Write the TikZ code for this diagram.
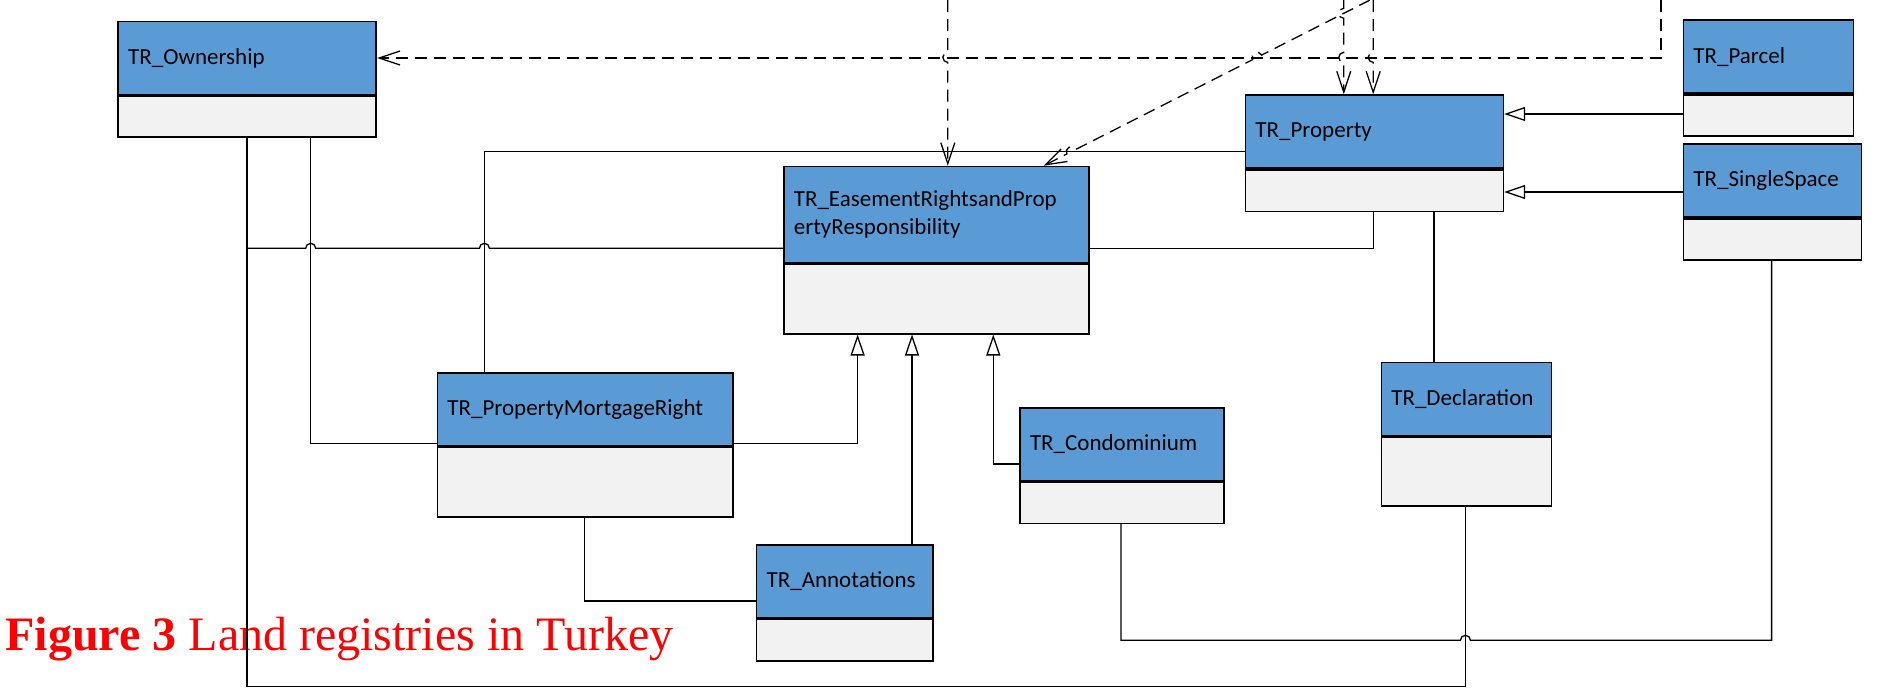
\documentclass[tikz,border=0pt]{standalone}
\usepackage{fontspec}
\setmainfont{Liberation Serif}
\newfontfamily\boxfont{Carlito}
\usetikzlibrary{arrows.meta,positioning}
\definecolor{umlblue}{HTML}{5B9BD5}
\definecolor{umlgray}{HTML}{F2F2F2}

\begin{document}
\begin{tikzpicture}[x=1pt, y=-1pt,
  cls/.style={draw, line width=1.6pt, fill=umlblue, anchor=north west, text width=#1pt, align=left,
    inner xsep=10pt, inner ysep=0pt, minimum height=73pt, font=\boxfont\fontsize{23}{28}\selectfont},
  body/.style={draw, line width=1.6pt, fill=umlgray, minimum width=#1pt, minimum height=41pt, inner sep=0pt},
  assoc/.style={line width=1.3pt},
  gen/.style={line width=1.3pt, -{Triangle[open, length=21pt, width=14pt]}},
  dep/.style={line width=1.3pt, dash pattern=on 12pt off 7pt, -{Straight Barb[length=21pt, width=14pt]}}]
  \useasboundingbox (0,0) rectangle (1879,688);

  \node[anchor=base west, inner sep=0pt, text=red, font=\fontsize{48}{48}\selectfont] (cap) at (5.4,650) {\textbf{Figure 3} Land registries in Turkey};

  \node[cls=238] (own) at (117.4,20.7) {TR\_Ownership};
  \node[body=258, below=0pt of own] (own-b) {};
  \node[cls=285.4, minimum height=96pt] (ease) at (783,165.7) {TR\_EasementRightsandProp\\ertyResponsibility};
  \node[body=305.4, minimum height=69.6pt, below=0pt of ease] (ease-b) {};
  \node[cls=238] (prop) at (1244.6,94.3) {TR\_Property};
  \node[body=258, minimum height=41.7pt, below=0pt of prop] (prop-b) {};
  \node[cls=150] (parc) at (1682.6,19.3) {TR\_Parcel};
  \node[body=170, below=0pt of parc] (parc-b) {};
  \node[cls=158] (sngl) at (1682.6,143.3) {TR\_SingleSpace};
  \node[body=178, minimum height=41.3pt, below=0pt of sngl] (sngl-b) {};
  \node[cls=275.5] (pmr) at (436.6,372) {TR\_PropertyMortgageRight};
  \node[body=295.5, minimum height=69.3pt, below=0pt of pmr] (pmr-b) {};
  \node[cls=156.3] (anno) at (755.8,544) {TR\_Annotations};
  \node[body=176.3, minimum height=41.6pt, below=0pt of anno] (anno-b) {};
  \node[cls=184] (cond) at (1019.2,407) {TR\_Condominium};
  \node[body=204, below=0pt of cond] (cond-b) {};
  \node[cls=150] (decl) at (1380.5,361.7) {TR\_Declaration};
  \node[body=170, minimum height=69pt, below=0pt of decl] (decl-b) {};

  \coordinate (t1) at (1661,0);
  \coordinate (t2) at (947.8,0);
  \coordinate (t3) at (1370,0);
  \coordinate (t4) at (1343.75,0);
  \coordinate (t5) at (1373.2,0);

  \draw[assoc] (246.9,0 |- own-b.south) -- (246.9,686.7) -| (1465.4,0 |- decl-b.south);
  \draw[assoc] (246.9,0 |- own-b.south) -- (246.9,248.3) -- (305.7,248.3) arc[start angle=180, end angle=0, radius=5pt]
    -- (479.4,248.3) arc[start angle=180, end angle=0, radius=5pt] -- (ease.west |- 0,248.3);
  \draw[assoc] (310.7,0 |- own-b.south) |- (pmr.west |- 0,443.3);
  \draw[assoc] (484.4,0 |- pmr.north) |- (prop.west |- 0,151.7);
  \draw[assoc] (1373.2,0 |- prop-b.south) |- (ease.east |- 0,248.3);
  \draw[assoc] (1434,0 |- prop-b.south) -- (1434,0 |- decl.north);
  \draw[assoc] (1771.6,0 |- sngl-b.south) -- (1771.6,640.3) -- (1470.4,640.3) arc[start angle=0, end angle=180, radius=5pt]
    -| (1121,0 |- cond-b.south);
  \draw[assoc] (584.4,0 |- pmr-b.south) |- (anno.west |- 0,601);

  \draw[gen] (parc-b.west |- 0,114) -- (prop.east |- 0,114);
  \draw[gen] (sngl.west |- 0,192) -- (prop.east |- 0,192);
  \draw[gen] (pmr.east |- 0,443.3) -| (857.6,0 |- ease-b.south);
  \draw[gen] (912,0 |- anno.north) -- (912,0 |- ease-b.south);
  \draw[gen] (cond.west |- 0,464) -| (993.3,0 |- ease-b.south);

  \draw[dep] (t1) |- (own.east);
  \draw[dep] (t2) -- (947.8,52.4) arc[start angle=90, end angle=270, radius=5pt] -- (947.8,0 |- ease.north);
  \draw[dep] (t3) -- (1261.6,55.1) arc[start angle=26.9, end angle=206.9, radius=5pt]
    -- (1075.8,149.4) arc[start angle=26.9, end angle=206.9, radius=5pt] -- (1043.75,0 |- ease.north);
  \draw[dep] (t4) -- (1343.75,8.3) arc[start angle=90, end angle=270, radius=5pt]
    -- (1343.75,52.4) arc[start angle=90, end angle=270, radius=5pt] -- (1343.75,0 |- prop.north);
  \draw[dep] (t5) -- (1373.2,52.4) arc[start angle=90, end angle=270, radius=5pt] -- (1373.2,0 |- prop.north);
\end{tikzpicture}
\end{document}
